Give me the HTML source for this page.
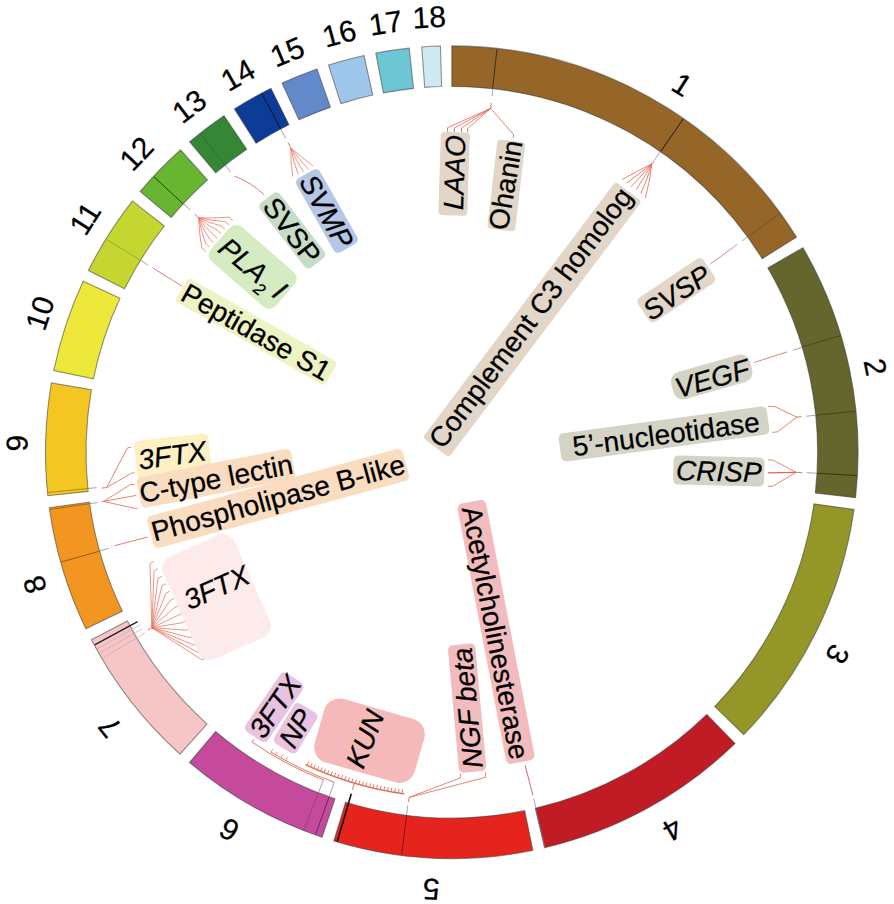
<!DOCTYPE html>
<html><head><meta charset="utf-8"><style>
html,body{margin:0;padding:0;background:#fff;}
svg{display:block;}
text{font-family:"Liberation Sans",Arial,sans-serif;fill:#000;stroke:#000;stroke-width:0.25px;}
.i{font-style:italic;}
</style></head><body>
<svg width="894" height="904" viewBox="0 0 894 904">
<rect width="894" height="904" fill="#fff"/>

<path d="M451.8 45.9A406.3 406.3 0 0 1 796.55 237.19L762.19 258.63A365.8 365.8 0 0 0 451.8 86.4Z" fill="#956628" stroke="#3c3c3c" stroke-opacity="0.55" stroke-width="1.1"/>
<path d="M802.85 247.64A406.3 406.3 0 0 1 855.55 497.63L815.31 493.1A365.8 365.8 0 0 0 767.86 268.03Z" fill="#65662d" stroke="#3c3c3c" stroke-opacity="0.55" stroke-width="1.1"/>
<path d="M854.03 509.59A406.3 406.3 0 0 1 743.82 734.69L714.71 706.54A365.8 365.8 0 0 0 813.93 503.87Z" fill="#959628" stroke="#3c3c3c" stroke-opacity="0.55" stroke-width="1.1"/>
<path d="M735.06 743.48A406.3 406.3 0 0 1 544.58 847.77L535.33 808.34A365.8 365.8 0 0 0 706.82 714.45Z" fill="#c11c25" stroke="#3c3c3c" stroke-opacity="0.55" stroke-width="1.1"/>
<path d="M532.8 850.34A406.3 406.3 0 0 1 333.82 840.99L345.58 802.24A365.8 365.8 0 0 0 524.73 810.66Z" fill="#e5251d" stroke="#3c3c3c" stroke-opacity="0.55" stroke-width="1.1"/>
<path d="M322.07 837.23A406.3 406.3 0 0 1 189.55 762.53L215.69 731.6A365.8 365.8 0 0 0 335 798.85Z" fill="#c54a9c" stroke="#3c3c3c" stroke-opacity="0.55" stroke-width="1.1"/>
<path d="M179.93 754.14A406.3 406.3 0 0 1 91.41 639.81L127.33 621.11A365.8 365.8 0 0 0 207.03 724.04Z" fill="#f6c6c7" stroke="#3c3c3c" stroke-opacity="0.55" stroke-width="1.1"/>
<path d="M85.85 628.72A406.3 406.3 0 0 1 49.31 507.69L89.43 502.16A365.8 365.8 0 0 0 122.32 611.12Z" fill="#f39521" stroke="#3c3c3c" stroke-opacity="0.55" stroke-width="1.1"/>
<path d="M47.84 495.73A406.3 406.3 0 0 1 51.45 382.9L91.36 389.81A365.8 365.8 0 0 0 88.11 491.39Z" fill="#f4c622" stroke="#3c3c3c" stroke-opacity="0.55" stroke-width="1.1"/>
<path d="M53.77 370.64A406.3 406.3 0 0 1 83.21 281.26L119.95 298.3A365.8 365.8 0 0 0 93.45 378.77Z" fill="#eee83b" stroke="#3c3c3c" stroke-opacity="0.55" stroke-width="1.1"/>
<path d="M88.38 270.53A406.3 406.3 0 0 1 132.51 200.94L164.33 225.99A365.8 365.8 0 0 0 124.6 288.64Z" fill="#c6d631" stroke="#3c3c3c" stroke-opacity="0.55" stroke-width="1.1"/>
<path d="M140.19 191.47A406.3 406.3 0 0 1 180.46 149.79L207.51 179.93A365.8 365.8 0 0 0 171.25 217.46Z" fill="#67b530" stroke="#3c3c3c" stroke-opacity="0.55" stroke-width="1.1"/>
<path d="M189.55 141.87A406.3 406.3 0 0 1 224.01 115.76L246.72 149.3A365.8 365.8 0 0 0 215.69 172.8Z" fill="#358736" stroke="#3c3c3c" stroke-opacity="0.55" stroke-width="1.1"/>
<path d="M234.39 108.96A406.3 406.3 0 0 1 270.95 88.37L288.98 124.63A365.8 365.8 0 0 0 256.06 143.17Z" fill="#0d3c98" stroke="#3c3c3c" stroke-opacity="0.55" stroke-width="1.1"/>
<path d="M282.02 83.07A406.3 406.3 0 0 1 316.98 68.92L330.42 107.13A365.8 365.8 0 0 0 298.94 119.87Z" fill="#628acb" stroke="#3c3c3c" stroke-opacity="0.55" stroke-width="1.1"/>
<path d="M328.54 65.05A406.3 406.3 0 0 1 364 55.5L372.75 95.04A365.8 365.8 0 0 0 340.83 103.64Z" fill="#9ec6ea" stroke="#3c3c3c" stroke-opacity="0.55" stroke-width="1.1"/>
<path d="M375.81 53.07A406.3 406.3 0 0 1 409.26 48.13L413.5 88.41A365.8 365.8 0 0 0 383.38 92.86Z" fill="#6dc6d3" stroke="#3c3c3c" stroke-opacity="0.55" stroke-width="1.1"/>
<path d="M421.76 47.01A406.3 406.3 0 0 1 440.46 46.06L441.59 86.54A365.8 365.8 0 0 0 424.75 87.4Z" fill="#cfe9f0" stroke="#3c3c3c" stroke-opacity="0.55" stroke-width="1.1"/>
<text transform="translate(682.26 84.33) rotate(32.07)" x="0" y="10.74" text-anchor="middle" font-size="30">1</text>
<text transform="translate(875.64 367.06) rotate(78.64)" x="0" y="10.74" text-anchor="middle" font-size="30">2</text>
<text transform="translate(837.99 654.37) rotate(117.63)" x="0" y="10.74" text-anchor="middle" font-size="30">3</text>
<text transform="translate(672.7 829.76) rotate(149.67)" x="0" y="10.74" text-anchor="middle" font-size="30">4</text>
<text transform="translate(431.28 889.72) rotate(182.68)" x="0" y="10.74" text-anchor="middle" font-size="30">5</text>
<text transform="translate(229.19 830.04) rotate(210.5)" x="0" y="10.74" text-anchor="middle" font-size="30">6</text>
<text transform="translate(109.55 727.31) rotate(231.21)" x="0" y="10.74" text-anchor="middle" font-size="30">7</text>
<text transform="translate(34.37 584.73) rotate(252.39)" x="0" y="10.74" text-anchor="middle" font-size="30">8</text>
<text transform="translate(16.62 443.17) rotate(271.19)" x="0" y="10.74" text-anchor="middle" font-size="30">9</text>
<text transform="translate(39.63 313.02) rotate(288.66)" x="0" y="10.74" text-anchor="middle" font-size="30">10</text>
<text transform="translate(84.74 218.24) rotate(302.51)" x="0" y="10.74" text-anchor="middle" font-size="30">11</text>
<text transform="translate(136.14 153.27) rotate(313.44)" x="0" y="10.74" text-anchor="middle" font-size="30">12</text>
<text transform="translate(189 105.98) rotate(322.8)" x="0" y="10.74" text-anchor="middle" font-size="30">13</text>
<text transform="translate(237.82 74.68) rotate(330.46)" x="0" y="10.74" text-anchor="middle" font-size="30">14</text>
<text transform="translate(287.06 51.49) rotate(337.65)" x="0" y="10.74" text-anchor="middle" font-size="30">15</text>
<text transform="translate(339.2 33.16) rotate(344.96)" x="0" y="10.74" text-anchor="middle" font-size="30">16</text>
<text transform="translate(385.59 22.66) rotate(351.24)" x="0" y="10.74" text-anchor="middle" font-size="30">17</text>
<text transform="translate(429.14 16.86) rotate(357.02)" x="0" y="10.74" text-anchor="middle" font-size="30">18</text>
<line x1="497.03" y1="48.93" x2="492.58" y2="88.68" stroke="#2a2a2a" stroke-width="0.9"/>
<line x1="683.28" y1="118.9" x2="660.46" y2="151.75" stroke="#1a1a1a" stroke-width="1.0"/>
<line x1="779.89" y1="213.39" x2="747.55" y2="236.93" stroke="#6a4a1e" stroke-width="0.7"/>
<line x1="840.48" y1="335.59" x2="802.17" y2="347.08" stroke="#3a3a1a" stroke-width="0.7"/>
<line x1="855.52" y1="411.19" x2="815.73" y2="415.23" stroke="#3a3a1a" stroke-width="0.7"/>
<line x1="856.93" y1="475.56" x2="816.99" y2="473.26" stroke="#2a2a10" stroke-width="0.8"/>
<line x1="401.64" y1="854.89" x2="406.59" y2="815.2" stroke="#5a1010" stroke-width="0.7"/>
<line x1="337.23" y1="841.49" x2="351.29" y2="793.72" stroke="#111" stroke-width="1.6"/>
<line x1="315.67" y1="834.49" x2="329.09" y2="796.8" stroke="#5a2a50" stroke-width="0.9"/>
<line x1="303.73" y1="830.02" x2="318.33" y2="792.78" stroke="#8a3a76" stroke-width="0.7"/>
<line x1="96.88" y1="648.94" x2="140.44" y2="624.79" stroke="#c0a0a8" stroke-width="0.6"/>
<line x1="99.31" y1="653.26" x2="142.57" y2="628.58" stroke="#c0a0a8" stroke-width="0.6"/>
<line x1="102.15" y1="658.16" x2="145.06" y2="632.88" stroke="#c0a0a8" stroke-width="0.6"/>
<line x1="94.67" y1="644.9" x2="137.62" y2="621.72" stroke="#222" stroke-width="1.4"/>
<line x1="61.14" y1="562.01" x2="99.65" y2="551.19" stroke="#7a4a10" stroke-width="0.8"/>
<line x1="50.05" y1="509.38" x2="89.65" y2="503.74" stroke="#8a5a10" stroke-width="0.7"/>
<line x1="48.01" y1="492.5" x2="87.81" y2="488.53" stroke="#8a7a10" stroke-width="0.7"/>
<line x1="106.35" y1="239.26" x2="140.41" y2="260.25" stroke="#8a9a2a" stroke-width="0.7"/>
<line x1="153.81" y1="176.74" x2="183.18" y2="203.89" stroke="#1a3a10" stroke-width="0.9"/>
<line x1="200.29" y1="133.74" x2="225.08" y2="165.13" stroke="#2a5a2a" stroke-width="0.6"/>
<line x1="261.91" y1="93.57" x2="280.63" y2="128.92" stroke="#111" stroke-width="0.9"/>
<line x1="492.89" y1="88.72" x2="492.07" y2="95.97" stroke="#8a8f98" stroke-width="0.8"/>
<line x1="491.29" y1="102.92" x2="490.67" y2="108.39" stroke="#e06650" stroke-width="0.9"/>
<path d="M490.67 108.39 L447.6 127.7" fill="none" stroke="#e06650" stroke-width="0.8"/>
<path d="M447.6 127.7 L447.6 132" fill="none" stroke="#8a6a5a" stroke-width="0.8"/>
<path d="M490.67 108.39 L454.3 128.1" fill="none" stroke="#e06650" stroke-width="0.8"/>
<path d="M454.3 128.1 L454.3 132" fill="none" stroke="#8a6a5a" stroke-width="0.8"/>
<path d="M490.67 108.39 L461.5 128.1" fill="none" stroke="#e06650" stroke-width="0.8"/>
<path d="M461.5 128.1 L461.5 132" fill="none" stroke="#8a6a5a" stroke-width="0.8"/>
<path d="M490.67 108.39 L467.7 128.6" fill="none" stroke="#e06650" stroke-width="0.8"/>
<path d="M467.7 128.6 L467.7 132" fill="none" stroke="#8a6a5a" stroke-width="0.8"/>
<path d="M490.67 108.39 L513.4 134.4" fill="none" stroke="#e06650" stroke-width="0.8"/>
<path d="M513.4 134.4 L513.4 137.5" fill="none" stroke="#8a6a5a" stroke-width="0.8"/>
<line x1="660.3" y1="151.64" x2="654.72" y2="159.69" stroke="#8a8f98" stroke-width="0.8"/>
<line x1="654.15" y1="160.52" x2="651.87" y2="163.8" stroke="#e06650" stroke-width="0.9"/>
<path d="M651.87 163.8Q638.48 170.65 622.1 179.5" fill="none" stroke="#e06650" stroke-width="0.8"/>
<path d="M651.87 163.8Q640.73 172.45 626.6 183.1" fill="none" stroke="#e06650" stroke-width="0.8"/>
<path d="M651.87 163.8Q642.93 174.25 631 186.7" fill="none" stroke="#e06650" stroke-width="0.8"/>
<path d="M651.87 163.8Q645.43 175.8 636 189.8" fill="none" stroke="#e06650" stroke-width="0.8"/>
<path d="M651.87 163.8Q647.88 177.8 640.9 193.8" fill="none" stroke="#e06650" stroke-width="0.8"/>
<path d="M651.87 163.8Q650.08 180.05 645.3 198.3" fill="none" stroke="#e06650" stroke-width="0.8"/>
<line x1="747.55" y1="236.93" x2="741.97" y2="240.99" stroke="#8a8f98" stroke-width="0.8"/>
<path d="M737.53 244.23 L710.3 264" fill="none" stroke="#d07070" stroke-width="0.8"/>
<line x1="802.26" y1="347.39" x2="792.78" y2="350.23" stroke="#8a8f98" stroke-width="0.8"/>
<path d="M787.13 351.92 L754.1 362.5" fill="none" stroke="#d86060" stroke-width="0.8"/>
<line x1="815.73" y1="415.23" x2="806.18" y2="416.2" stroke="#8a8f98" stroke-width="0.8"/>
<line x1="801.5" y1="416.68" x2="796.82" y2="417.15" stroke="#e06650" stroke-width="0.9"/>
<path d="M796.82 417.15 L775 406.6 L768.2 406.4" fill="none" stroke="#e06650" stroke-width="0.8"/>
<path d="M796.82 417.15 L777.6 431.8 L772.1 432.4" fill="none" stroke="#e06650" stroke-width="0.8"/>
<line x1="816.99" y1="473.26" x2="807.01" y2="472.68" stroke="#8a8f98" stroke-width="0.8"/>
<line x1="802.3" y1="472.72" x2="796.01" y2="472.35" stroke="#e06650" stroke-width="0.9"/>
<path d="M796.01 472.35 L773.3 460.2 L768.2 459.8" fill="none" stroke="#e06650" stroke-width="0.8"/>
<path d="M796.01 472.35 L767.8 472.9" fill="none" stroke="#e06650" stroke-width="1.3"/>
<path d="M796.01 472.35 L772.5 486.4 L767.8 486.2" fill="none" stroke="#e06650" stroke-width="0.8"/>
<line x1="535.95" y1="808.19" x2="533.7" y2="798.65" stroke="#8a8f98" stroke-width="0.8"/>
<line x1="535.64" y1="808.26" x2="544.92" y2="847.68" stroke="#7a7a80" stroke-width="0.7"/>
<path d="M525.2 765.4 L532.89 795.25" fill="none" stroke="#b05040" stroke-width="0.8"/>
<line x1="406.59" y1="815.2" x2="407.8" y2="805.47" stroke="#8a8f98" stroke-width="0.8"/>
<line x1="408.55" y1="801.94" x2="409.11" y2="797.37" stroke="#e06650" stroke-width="0.9"/>
<path d="M409.11 797.37 L460.4 777.9 L460.4 773.5" fill="none" stroke="#e06650" stroke-width="0.8"/>
<path d="M409.11 797.37 L485.6 777.3 L485.6 772.5" fill="none" stroke="#e06650" stroke-width="0.8"/>
<line x1="352.42" y1="789.88" x2="354.39" y2="783.16" stroke="#e06650" stroke-width="0.9"/>
<path d="M404.38 793.93A345 345 0 0 1 305.45 764.62" fill="none" stroke="#e06a52" stroke-width="1.3"/>
<line x1="402" y1="793.59" x2="402.57" y2="789.63" stroke="#e06a52" stroke-width="0.9"/>
<line x1="398.36" y1="793.04" x2="398.98" y2="789.08" stroke="#e06a52" stroke-width="0.9"/>
<line x1="394.73" y1="792.45" x2="395.39" y2="788.5" stroke="#e06a52" stroke-width="0.9"/>
<line x1="391.1" y1="791.82" x2="391.8" y2="787.88" stroke="#e06a52" stroke-width="0.9"/>
<line x1="387.48" y1="791.15" x2="388.23" y2="787.22" stroke="#e06a52" stroke-width="0.9"/>
<line x1="383.87" y1="790.45" x2="384.66" y2="786.52" stroke="#e06a52" stroke-width="0.9"/>
<line x1="380.27" y1="789.7" x2="381.1" y2="785.79" stroke="#e06a52" stroke-width="0.9"/>
<line x1="376.67" y1="788.92" x2="377.54" y2="785.02" stroke="#e06a52" stroke-width="0.9"/>
<line x1="373.08" y1="788.1" x2="374" y2="784.21" stroke="#e06a52" stroke-width="0.9"/>
<line x1="369.51" y1="787.24" x2="370.46" y2="783.36" stroke="#e06a52" stroke-width="0.9"/>
<line x1="365.94" y1="786.34" x2="366.93" y2="782.47" stroke="#e06a52" stroke-width="0.9"/>
<line x1="362.38" y1="785.41" x2="363.41" y2="781.55" stroke="#e06a52" stroke-width="0.9"/>
<line x1="358.83" y1="784.44" x2="359.91" y2="780.59" stroke="#e06a52" stroke-width="0.9"/>
<line x1="355.29" y1="783.43" x2="356.41" y2="779.59" stroke="#e06a52" stroke-width="0.9"/>
<line x1="351.76" y1="782.38" x2="352.92" y2="778.55" stroke="#e06a52" stroke-width="0.9"/>
<line x1="348.25" y1="781.29" x2="349.45" y2="777.48" stroke="#e06a52" stroke-width="0.9"/>
<line x1="344.74" y1="780.17" x2="345.99" y2="776.37" stroke="#e06a52" stroke-width="0.9"/>
<line x1="341.25" y1="779.01" x2="342.53" y2="775.22" stroke="#e06a52" stroke-width="0.9"/>
<line x1="337.77" y1="777.81" x2="339.09" y2="774.04" stroke="#e06a52" stroke-width="0.9"/>
<line x1="334.31" y1="776.58" x2="335.67" y2="772.82" stroke="#e06a52" stroke-width="0.9"/>
<line x1="330.85" y1="775.31" x2="332.26" y2="771.56" stroke="#e06a52" stroke-width="0.9"/>
<line x1="327.41" y1="774" x2="328.86" y2="770.27" stroke="#e06a52" stroke-width="0.9"/>
<line x1="323.99" y1="772.65" x2="325.47" y2="768.94" stroke="#e06a52" stroke-width="0.9"/>
<line x1="320.58" y1="771.27" x2="322.1" y2="767.57" stroke="#e06a52" stroke-width="0.9"/>
<line x1="317.18" y1="769.85" x2="318.74" y2="766.17" stroke="#e06a52" stroke-width="0.9"/>
<line x1="313.8" y1="768.4" x2="315.4" y2="764.73" stroke="#e06a52" stroke-width="0.9"/>
<line x1="310.44" y1="766.91" x2="312.08" y2="763.26" stroke="#e06a52" stroke-width="0.9"/>
<line x1="307.09" y1="765.38" x2="308.77" y2="761.75" stroke="#e06a52" stroke-width="0.9"/>
<line x1="318.33" y1="792.78" x2="323.55" y2="779.47" stroke="#8a8f98" stroke-width="0.8"/>
<path d="M323.36 779.93A352 352 0 0 1 251.92 741.94" fill="none" stroke="#e06a50" stroke-width="0.9"/>
<line x1="251.92" y1="741.94" x2="253.91" y2="739.06" stroke="#e06a50" stroke-width="0.8"/>
<line x1="329.09" y1="796.8" x2="334.29" y2="782.2" stroke="#8a8f98" stroke-width="0.8"/>
<path d="M334.29 782.2A350.3 350.3 0 0 1 270.86 752.15" fill="none" stroke="#e06a50" stroke-width="0.9"/>
<line x1="270.86" y1="752.15" x2="272.82" y2="748.9" stroke="#e06a50" stroke-width="0.7"/>
<line x1="275.59" y1="754.96" x2="277.5" y2="751.67" stroke="#e06a50" stroke-width="0.7"/>
<line x1="280.9" y1="757.98" x2="282.76" y2="754.67" stroke="#e06a50" stroke-width="0.7"/>
<line x1="285.73" y1="760.63" x2="287.53" y2="757.29" stroke="#e06a50" stroke-width="0.7"/>
<line x1="147.72" y1="630.1" x2="151.86" y2="627.68" stroke="#e06650" stroke-width="0.9"/>
<path d="M151.86 627.68 L150 563.6 L153.96 561.46" fill="none" stroke="#e8705a" stroke-width="0.75"/>
<path d="M151.86 627.68 L153.99 571 L157.95 568.86" fill="none" stroke="#e8705a" stroke-width="0.75"/>
<path d="M151.86 627.68 L157.98 578.4 L161.94 576.26" fill="none" stroke="#e8705a" stroke-width="0.75"/>
<path d="M151.86 627.68 L161.98 585.8 L165.94 583.66" fill="none" stroke="#e8705a" stroke-width="0.75"/>
<path d="M151.86 627.68 L165.97 593.2 L169.93 591.06" fill="none" stroke="#e8705a" stroke-width="0.75"/>
<path d="M151.86 627.68 L169.96 600.6 L173.92 598.46" fill="none" stroke="#e8705a" stroke-width="0.75"/>
<path d="M151.86 627.68 L173.95 608 L177.91 605.86" fill="none" stroke="#e8705a" stroke-width="0.75"/>
<path d="M151.86 627.68 L177.95 615.4 L181.91 613.26" fill="none" stroke="#e8705a" stroke-width="0.75"/>
<path d="M151.86 627.68 L181.94 622.8 L185.9 620.66" fill="none" stroke="#e8705a" stroke-width="0.75"/>
<path d="M151.86 627.68 L185.93 630.2 L189.89 628.06" fill="none" stroke="#e8705a" stroke-width="0.75"/>
<path d="M151.86 627.68 L189.92 637.6 L193.88 635.46" fill="none" stroke="#e8705a" stroke-width="0.75"/>
<path d="M151.86 627.68 L193.92 645 L197.88 642.86" fill="none" stroke="#e8705a" stroke-width="0.75"/>
<path d="M151.86 627.68 L197.91 652.4 L201.87 650.26" fill="none" stroke="#e8705a" stroke-width="0.75"/>
<path d="M151.86 627.68 L201.9 659.8 L205.86 657.66" fill="none" stroke="#e8705a" stroke-width="0.75"/>
<line x1="87.81" y1="488.53" x2="96.57" y2="487.66" stroke="#8a8f98" stroke-width="0.8"/>
<line x1="101.63" y1="488.08" x2="106.61" y2="487.57" stroke="#e06650" stroke-width="0.9"/>
<path d="M106.61 487.57 L127.4 448 L131 447.2" fill="none" stroke="#e06650" stroke-width="0.8"/>
<path d="M106.61 487.57 L131.7 473.1 L134.6 472.8" fill="none" stroke="#e06650" stroke-width="0.8"/>
<line x1="89.65" y1="503.74" x2="97.17" y2="502.67" stroke="#8a8f98" stroke-width="0.8"/>
<line x1="101.78" y1="501.7" x2="103.76" y2="501.42" stroke="#e06650" stroke-width="0.9"/>
<path d="M103.76 501.42 L130.3 484.6 L134.6 484.6" fill="none" stroke="#e06650" stroke-width="0.8"/>
<path d="M103.76 501.42 L136.1 495.4" fill="none" stroke="#e06650" stroke-width="0.8"/>
<path d="M103.76 501.42 L134.6 508.3 L137.5 508.3" fill="none" stroke="#e06650" stroke-width="0.8"/>
<line x1="99.56" y1="550.88" x2="108.81" y2="548.29" stroke="#8a8f98" stroke-width="0.8"/>
<path d="M114.5 545.7 L147.6 537.1" fill="none" stroke="#d06050" stroke-width="0.8"/>
<line x1="140.41" y1="260.25" x2="147.9" y2="264.87" stroke="#8a8f98" stroke-width="0.8"/>
<path d="M152.4 267.7 L182 286.1" fill="none" stroke="#d06050" stroke-width="0.8"/>
<line x1="183.4" y1="203.66" x2="190.52" y2="210.25" stroke="#8a8f98" stroke-width="0.8"/>
<line x1="194.55" y1="213.99" x2="198.59" y2="217.72" stroke="#e06650" stroke-width="0.9"/>
<path d="M198.59 217.72Q212.74 218.46 228.9 217.2" fill="none" stroke="#e8705a" stroke-width="0.75"/>
<path d="M228.9 217.2 L232.8 220.7" fill="none" stroke="#e8705a" stroke-width="0.75"/>
<path d="M198.59 217.72Q210.81 220.65 225.03 221.57" fill="none" stroke="#e8705a" stroke-width="0.75"/>
<path d="M225.03 221.57 L228.93 225.07" fill="none" stroke="#e8705a" stroke-width="0.75"/>
<path d="M198.59 217.72Q208.87 222.83 221.16 225.94" fill="none" stroke="#e8705a" stroke-width="0.75"/>
<path d="M221.16 225.94 L225.06 229.44" fill="none" stroke="#e8705a" stroke-width="0.75"/>
<path d="M198.59 217.72Q206.94 225.02 217.29 230.31" fill="none" stroke="#e8705a" stroke-width="0.75"/>
<path d="M217.29 230.31 L221.19 233.81" fill="none" stroke="#e8705a" stroke-width="0.75"/>
<path d="M198.59 217.72Q205 227.21 213.41 234.69" fill="none" stroke="#e8705a" stroke-width="0.75"/>
<path d="M213.41 234.69 L217.31 238.19" fill="none" stroke="#e8705a" stroke-width="0.75"/>
<path d="M198.59 217.72Q203.07 229.39 209.54 239.06" fill="none" stroke="#e8705a" stroke-width="0.75"/>
<path d="M209.54 239.06 L213.44 242.56" fill="none" stroke="#e8705a" stroke-width="0.75"/>
<path d="M198.59 217.72Q201.13 231.58 205.67 243.43" fill="none" stroke="#e8705a" stroke-width="0.75"/>
<path d="M205.67 243.43 L209.57 246.93" fill="none" stroke="#e8705a" stroke-width="0.75"/>
<path d="M198.59 217.72Q199.19 233.76 201.8 247.8" fill="none" stroke="#e8705a" stroke-width="0.75"/>
<path d="M201.8 247.8 L205.7 251.3" fill="none" stroke="#e8705a" stroke-width="0.75"/>
<line x1="225.08" y1="165.13" x2="230.72" y2="172.27" stroke="#8a8f98" stroke-width="0.8"/>
<path d="M234.4 176Q252 183 264.4 195" fill="none" stroke="#d06050" stroke-width="0.8"/>
<line x1="280.63" y1="128.92" x2="285.68" y2="138.46" stroke="#8a8f98" stroke-width="0.8"/>
<line x1="287.95" y1="142.47" x2="290.84" y2="147.95" stroke="#e06650" stroke-width="0.9"/>
<path d="M290.84 147.95Q300.37 156.38 312.9 165.8" fill="none" stroke="#e8705a" stroke-width="0.75"/>
<path d="M290.84 147.95Q298.17 158.18 308.5 169.4" fill="none" stroke="#e8705a" stroke-width="0.75"/>
<path d="M290.84 147.95Q295.67 159.53 303.5 172.1" fill="none" stroke="#e8705a" stroke-width="0.75"/>
<path d="M290.84 147.95Q293.02 160.63 298.2 174.3" fill="none" stroke="#e8705a" stroke-width="0.75"/>
<path d="M290.84 147.95Q290.32 161.73 292.8 176.5" fill="none" stroke="#e8705a" stroke-width="0.75"/>
<rect transform="translate(216.6 597) rotate(-24)" x="-39" y="-56" width="78" height="112" rx="13" fill="#fdeaea"/>
<rect transform="translate(369.5 740.7) rotate(16)" x="-52" y="-33" width="104" height="66" rx="16" fill="#f5b9b9"/>
<rect transform="translate(172.8 456) rotate(-6.5)" x="-37.25" y="-19" width="74.5" height="38" rx="5" fill="#fdf0c4"/>
<rect transform="translate(252.7 266.8) rotate(41)" x="-43" y="-23" width="86" height="46" rx="9" fill="#d5ecc2"/>
<g transform="translate(454.1 173.8) rotate(-88.2)"><rect x="-41.75" y="-14.5" width="83.5" height="29" rx="4" fill="#e1d6c8"/><text x="1.2" y="10.1" text-anchor="middle" font-size="28" class="i">LAAO</text></g>
<g transform="translate(506.3 185.3) rotate(-83.4)"><rect x="-45" y="-14" width="90" height="28" rx="4" fill="#e1d6c8"/><text transform="rotate(3)" x="0" y="8.9" text-anchor="middle" font-size="28">Ohanin</text></g>
<g transform="translate(532.2 319.5) rotate(-53)"><rect x="-160.35" y="-16.5" width="320.7" height="33" rx="4" fill="#e1d6c8"/><text x="0.4" y="7.3" text-anchor="middle" font-size="28">Complement C3 homolog</text></g>
<g transform="translate(676.3 290.3) rotate(-33.7)"><rect x="-39.5" y="-14.5" width="79" height="29" rx="5" fill="#e1d6c8"/><text x="-1" y="11.9" text-anchor="middle" font-size="28" class="i">SVSP</text></g>
<g transform="translate(711.7 377) rotate(-16)"><rect x="-41" y="-14" width="82" height="28" rx="10" fill="#d4d4c6"/><text x="0" y="11.1" text-anchor="middle" font-size="28" class="i">VEGF</text></g>
<g transform="translate(664 434) rotate(-7.7)"><rect x="-105" y="-14.25" width="210" height="28.5" rx="5" fill="#d4d4c6"/><text x="2" y="10.1" text-anchor="middle" font-size="28">5’-nucleotidase</text></g>
<g transform="translate(718.8 471) rotate(1.5)"><rect x="-45.5" y="-14.5" width="91" height="29" rx="5" fill="#d4d4c6"/><text x="0" y="10.1" text-anchor="middle" font-size="28" class="i">CRISP</text></g>
<g transform="translate(496 631.9) rotate(79.1)"><rect x="-132.5" y="-14.5" width="265" height="29" rx="5" fill="#f2bbbe"/><text x="0.8" y="10.4" text-anchor="middle" font-size="28">Acetylcholinesterase</text></g>
<g transform="translate(467.1 708.1) rotate(-95.2)"><rect x="-64" y="-13.75" width="128" height="27.5" rx="5" fill="#f2bbbe"/><text x="0" y="10.1" text-anchor="middle" font-size="28" class="i">NGF beta</text></g>
<g transform="translate(274.2 707.2) rotate(-55.5)"><rect x="-35.5" y="-13.5" width="71" height="27" rx="5" fill="#e8c3df"/><text x="1" y="10.1" text-anchor="middle" font-size="28" class="i">3FTX</text></g>
<g transform="translate(295.6 728.2) rotate(-58.8)"><rect x="-23.5" y="-13.5" width="47" height="27" rx="5" fill="#e8c3df"/><text x="0" y="10.1" text-anchor="middle" font-size="28" class="i">NP</text></g>
<g transform="translate(278.2 498.4) rotate(-15.2)"><rect x="-132.3" y="-16.5" width="264.6" height="33" rx="5" fill="#fadcc0"/><text x="0" y="9.2" text-anchor="middle" font-size="28">Phospholipase B-like</text></g>
<g transform="translate(216.05 478.3) rotate(-11)"><rect x="-78.5" y="-15.5" width="157" height="31" rx="5" fill="#fadcc0"/><text x="0" y="10.1" text-anchor="middle" font-size="28">C-type lectin</text></g>
<g transform="translate(256.3 331.7) rotate(29.6)"><rect x="-86" y="-13.5" width="172" height="27" rx="4" fill="#eef3c4"/><text x="0" y="10.1" text-anchor="middle" font-size="28">Peptidase S1</text></g>
<g transform="translate(292.3 230.45) rotate(52.3)"><rect x="-41" y="-12.5" width="82" height="25" rx="5" fill="#c7dcc6"/><text x="0" y="10.1" text-anchor="middle" font-size="28">SVSP</text></g>
<g transform="translate(326.9 211) rotate(60.45)"><rect x="-42.5" y="-13.5" width="85" height="27" rx="5" fill="#b6c6e6"/><text x="0" y="10.1" text-anchor="middle" font-size="28" class="i">SVMP</text></g>
<text transform="translate(216.4 587.1) rotate(-24)" x="0" y="10.08" text-anchor="middle" font-size="28" class="i">3FTX</text>
<text transform="translate(364.8 738.8) rotate(-68.5)" x="0" y="10.08" text-anchor="middle" font-size="28" class="i">KUN</text>
<text transform="translate(172.3 455) rotate(-8)" x="0" y="10.08" text-anchor="middle" font-size="28" class="i">3FTX</text>
<text transform="translate(253 268) rotate(39.5)" x="0" y="10.08" text-anchor="middle" font-size="28" class="i">PLA<tspan font-size="17" dy="8">2</tspan><tspan dy="-8"> I</tspan></text>
</svg></body></html>
